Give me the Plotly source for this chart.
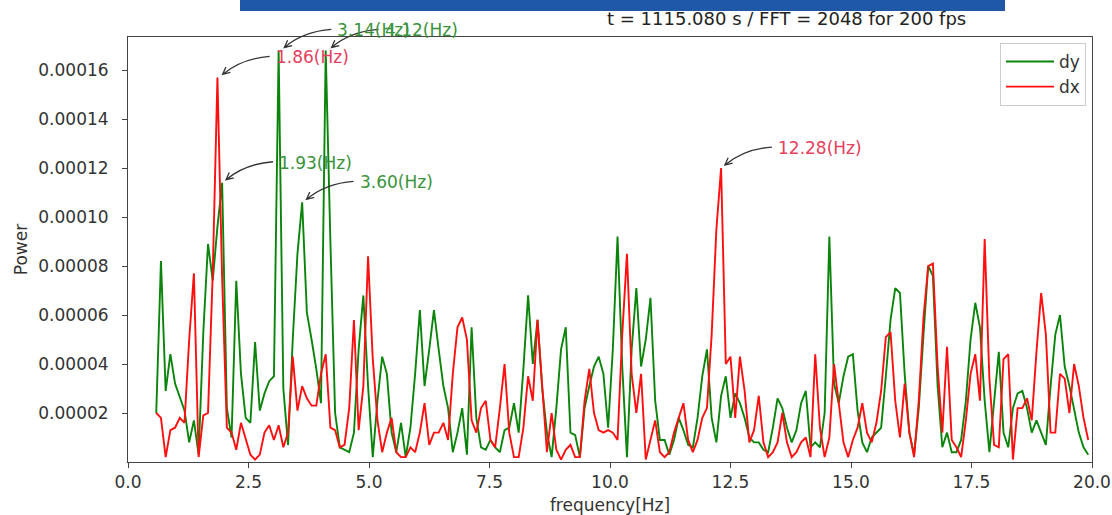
import math
import plotly.graph_objects as go

# ---------------- data ----------------
FS = 200          # sampling rate [fps]
NFFT = 2048       # FFT length
K_START = 6       # first plotted FFT bin

# power values in units of 1e-5, one per FFT bin starting at K_START
dy_e5 = [
    2.0, 8.2, 2.9, 4.4, 3.2, 2.6, 2.1, 0.8, 1.7, 0.3,
    5.3, 8.9, 7.4, 9.6, 11.4, 2.2, 1.0, 7.4, 3.6, 1.8,
    1.6, 4.9, 2.1, 2.8, 3.3, 3.5, 16.8, 3.0, 0.7, 5.0,
    8.5, 10.6, 6.1, 5.0, 3.8, 2.4, 16.8, 9.0, 2.0, 0.6,
    0.5, 0.4, 1.2, 4.6, 6.8, 3.1, 0.2, 2.5, 4.3, 3.6,
    1.2, 0.4, 1.6, 0.2, 1.4, 3.6, 6.2, 3.1, 4.6, 6.2,
    4.6, 3.1, 2.2, 0.4, 1.2, 2.2, 0.3, 5.5, 1.8, 0.6,
    0.5, 0.9, 0.6, 0.4, 1.3, 1.4, 2.4, 1.2, 3.8, 6.8,
    4.0, 5.8, 3.0, 1.2, 0.2, 2.2, 4.6, 5.5, 1.2, 1.1,
    0.2, 2.2, 3.1, 3.9, 4.3, 3.6, 1.4, 4.6, 9.2, 3.9,
    0.2, 4.6, 7.1, 3.9, 5.0, 6.7, 2.5, 0.9, 0.9, 0.3,
    0.9, 1.8, 1.3, 0.7, 0.6, 1.8, 3.5, 4.6, 1.8, 0.8,
    2.7, 3.5, 1.8, 2.8, 2.4, 1.8, 1.0, 0.8, 0.8, 0.5,
    0.4, 1.4, 2.6, 2.2, 1.4, 0.8, 1.3, 2.4, 2.9, 0.6,
    0.8, 0.6, 2.0, 9.2, 3.2, 2.4, 3.5, 4.3, 4.4, 2.1,
    0.8, 0.4, 1.0, 1.2, 1.4, 3.5, 5.8, 7.1, 6.9, 3.6,
    1.2, 0.3, 2.2, 5.2, 8.0, 7.6, 3.1, 0.6, 1.2, 0.4,
    0.4, 0.9, 2.5, 5.0, 6.5, 5.5, 2.5, 0.4, 2.5, 4.5,
    1.2, 0.6, 2.2, 2.8, 2.9, 2.2, 1.2, 1.7, 1.2, 0.7,
    3.1, 5.2, 6.0, 3.9, 3.1, 2.2, 1.2, 0.6, 0.3,
]
dx_e5 = [
    2.0, 1.8, 0.2, 1.3, 1.4, 1.8, 1.6, 5.0, 7.7, 0.2,
    1.9, 2.0, 7.7, 15.7, 7.5, 1.4, 1.2, 0.5, 1.6, 0.9,
    0.3, 0.1, 0.3, 1.2, 1.5, 0.9, 1.5, 0.6, 1.2, 4.3,
    2.1, 3.1, 2.6, 2.3, 2.3, 3.6, 4.4, 1.4, 1.3, 0.6,
    0.7, 2.2, 5.8, 1.3, 3.1, 8.4, 4.2, 1.7, 0.4, 1.2,
    1.8, 0.4, 0.2, 0.2, 0.6, 0.4, 1.2, 2.4, 0.7, 1.2,
    1.2, 1.6, 0.9, 3.6, 5.5, 5.9, 5.0, 1.7, 1.2, 2.2,
    2.5, 0.9, 0.6, 2.2, 4.0, 1.2, 0.2, 0.2, 1.4, 3.5,
    2.5, 5.8, 3.1, 0.4, 2.0, 0.5, 0.1, 0.5, 0.7, 0.2,
    0.2, 2.5, 3.8, 2.0, 1.3, 1.2, 1.3, 1.2, 0.9, 5.2,
    8.5, 3.6, 2.0, 3.6, 0.1, 0.9, 1.7, 0.4, 0.2, 0.4,
    1.2, 1.8, 2.4, 0.9, 0.4, 0.9, 1.8, 2.2, 5.2, 9.5,
    12.0, 4.0, 4.3, 1.8, 4.3, 2.9, 0.8, 1.3, 2.7, 0.8,
    0.2, 0.4, 0.8, 2.0, 0.8, 0.2, 0.4, 0.8, 1.0, 0.2,
    4.4, 1.4, 0.2, 1.0, 4.0, 2.4, 0.8, 0.2, 0.9, 1.4,
    2.4, 1.2, 0.8, 1.6, 2.9, 5.1, 5.3, 2.5, 1.0, 3.2,
    1.2, 0.2, 2.5, 5.9, 8.0, 8.1, 3.9, 1.2, 4.7, 0.9,
    0.6, 0.2, 1.7, 3.6, 4.4, 2.5, 9.1, 3.4, 0.7, 0.6,
    4.2, 4.4, 0.1, 2.2, 2.2, 2.6, 1.7, 4.5, 6.9, 5.2,
    1.2, 1.2, 3.6, 3.4, 2.0, 4.0, 3.1, 1.8, 0.9,
]
UNIT = 1e-5
freq = [(K_START + i) * FS / NFFT for i in range(len(dy_e5))]
dy = [v * UNIT for v in dy_e5]
dx = [v * UNIT for v in dx_e5]

# peak annotations
ann_labels = ["3.14(Hz)", "4.12(Hz)", "1.86(Hz)", "1.93(Hz)", "3.60(Hz)", "12.28(Hz)"]
ann_freq = [3.14, 4.12, 1.86, 1.93, 3.60, 12.28]
ann_power_e5 = [16.8, 16.8, 15.7, 11.4, 10.6, 12.0]
ann_series = ["dy", "dy", "dx", "dy", "dy", "dx"]

x_ticks = [0, 2.5, 5, 7.5, 10, 12.5, 15, 17.5, 20]
y_ticks_e5 = [2, 4, 6, 8, 10, 12, 14, 16]
info_text = "t = 1115.080 s / FFT = 2048 for 200 fps"

# ---------------- style / layout ----------------
W, H = 1112, 515
ML, MR, MT, MB = 128, 20, 37, 53
PW, PH = W - ML - MR, H - MT - MB
X_RANGE = [0, 20]
Y_RANGE = [0, 17.35 * UNIT]
FONT = "DejaVu Sans"
FS_TXT = 17
LINE_COL = {"dy": "#0b840b", "dx": "#ff0f0f"}
TEXT_COL = {"dy": "#3a933a", "dx": "#e5405c"}
AX_COL = "#444444"


def to_paper(f, v, dxp, dyp):
    """data point + pixel offset (screen, y down) -> paper coords"""
    px = (f - X_RANGE[0]) / (X_RANGE[1] - X_RANGE[0]) + dxp / PW
    py = (v - Y_RANGE[0]) / (Y_RANGE[1] - Y_RANGE[0]) - dyp / PH
    return px, py


fig = go.Figure()
fig.add_trace(go.Scatter(x=freq, y=dy, mode="lines", name="dy",
                         line=dict(color=LINE_COL["dy"], width=1.9)))
fig.add_trace(go.Scatter(x=freq, y=dx, mode="lines", name="dx",
                         line=dict(color=LINE_COL["dx"], width=1.9)))

shapes = []
annotations = []

# curved arrows + labels
T_OFF, C_OFF, H_OFF = (52, -21), (24, -19), (5, -3)
HEAD_LEN, HEAD_ANG = 8, math.radians(26)
for lab, f, pe5, s in zip(ann_labels, ann_freq, ann_power_e5, ann_series):
    v = pe5 * UNIT
    tx, ty = to_paper(f, v, *T_OFF)
    cx, cy = to_paper(f, v, *C_OFF)
    hx, hy = to_paper(f, v, *H_OFF)
    ux, uy = H_OFF[0] - C_OFF[0], H_OFF[1] - C_OFF[1]
    n = math.hypot(ux, uy)
    ux, uy = ux / n, uy / n
    wings = []
    for sgn in (1, -1):
        a = sgn * HEAD_ANG
        bx, by = -ux, -uy
        rx = bx * math.cos(a) - by * math.sin(a)
        ry = bx * math.sin(a) + by * math.cos(a)
        wings.append(to_paper(f, v, H_OFF[0] + rx * HEAD_LEN, H_OFF[1] + ry * HEAD_LEN))
    path = (f"M {tx},{ty} Q {cx},{cy} {hx},{hy} "
            f"M {wings[0][0]},{wings[0][1]} L {hx},{hy} L {wings[1][0]},{wings[1][1]}")
    shapes.append(dict(type="path", xref="paper", yref="paper", path=path,
                       line=dict(color="#333333", width=1.3), layer="above"))
    annotations.append(dict(x=f, y=v, xref="x", yref="y", text=lab, showarrow=False,
                            xanchor="left", yanchor="middle", xshift=56, yshift=20,
                            font=dict(family=FONT, size=FS_TXT, color=TEXT_COL[s])))

# blue header bar and info text
shapes.append(dict(type="rect", xref="paper", yref="paper",
                   x0=(240 - ML) / PW, x1=(1005 - ML) / PW,
                   y0=1 + (MT - 11) / PH, y1=1 + MT / PH,
                   fillcolor="#1f58a6", line=dict(width=0), layer="above"))
annotations.append(dict(x=(786 - ML) / PW, y=1 + (MT - 18) / PH, xref="paper", yref="paper",
                        text=info_text, showarrow=False, xanchor="center", yanchor="middle",
                        font=dict(family=FONT, size=18, color="#222222")))

fig.update_layout(
    width=W, height=H,
    margin=dict(l=ML, r=MR, t=MT, b=MB, autoexpand=False),
    paper_bgcolor="white", plot_bgcolor="white",
    font=dict(family=FONT, size=FS_TXT, color="#333333"),
    shapes=shapes, annotations=annotations,
    legend=dict(x=(1086 - ML) / PW, y=1 - (43 - MT) / PH, xanchor="right", yanchor="top",
                bgcolor="rgba(255,255,255,0.85)", bordercolor="#cccccc", borderwidth=1,
                font=dict(family=FONT, size=FS_TXT, color="#333333"),
                tracegroupgap=0, itemwidth=48),
    showlegend=True,
)
fig.update_xaxes(range=X_RANGE, tickvals=x_ticks, ticktext=[f"{t:.1f}" for t in x_ticks],
                 showgrid=False, zeroline=False, showline=True, mirror=True,
                 linecolor=AX_COL, linewidth=1, ticks="outside", ticklen=5, tickcolor=AX_COL,
                 tickfont=dict(family=FONT, size=FS_TXT, color="#333333"),
                 title=dict(text="frequency[Hz]", standoff=8,
                            font=dict(family=FONT, size=FS_TXT, color="#333333")))
fig.update_yaxes(range=Y_RANGE, tickvals=[t * UNIT for t in y_ticks_e5],
                 ticktext=[f"{t * UNIT:.5f}" for t in y_ticks_e5],
                 showgrid=False, zeroline=False, showline=True, mirror=True,
                 linecolor=AX_COL, linewidth=1, ticks="outside", ticklen=5, tickcolor=AX_COL,
                 ticklabelstandoff=10,
                 tickfont=dict(family=FONT, size=FS_TXT, color="#333333"),
                 title=dict(text="Power", standoff=6,
                            font=dict(family=FONT, size=FS_TXT, color="#333333")))

fig.write_html("out.html", config={"displayModeBar": False},
               post_script="document.body.style.margin='0px';")
